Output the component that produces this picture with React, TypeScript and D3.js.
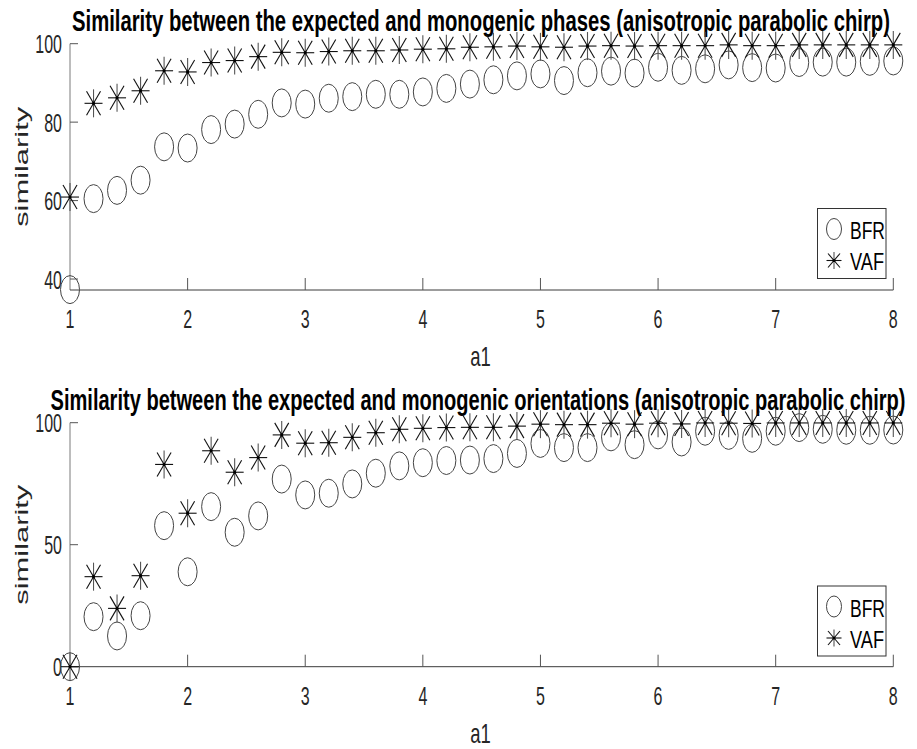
import React from "react";
import * as d3 from "d3";

const a1Values = [1, 1.2, 1.4, 1.6, 1.8, 2, 2.2, 2.4, 2.6, 2.8, 3, 3.2, 3.4, 3.6, 3.8, 4, 4.2, 4.4, 4.6, 4.8, 5, 5.2, 5.4, 5.6, 5.8, 6, 6.2, 6.4, 6.6, 6.8, 7, 7.2, 7.4, 7.6, 7.8, 8];

const phaseBFR = [37.3, 60.5, 62.6, 65.2, 73.7, 73.4, 78.1, 79.5, 82.0, 84.9, 84.6, 86.1, 86.5, 87.1, 87.1, 87.7, 88.6, 89.7, 90.8, 91.8, 92.3, 90.6, 92.6, 93.0, 92.5, 94.0, 93.2, 93.6, 94.6, 93.9, 93.8, 95.2, 95.3, 95.3, 95.5, 95.6];
const phaseVAF = [60.9, 84.8, 86.2, 88.0, 93.1, 92.8, 95.2, 95.7, 96.7, 97.8, 97.7, 98.0, 98.2, 98.2, 98.4, 98.6, 98.7, 99.1, 99.2, 99.4, 99.2, 99.1, 99.4, 99.5, 99.4, 99.5, 99.5, 99.5, 99.7, 99.5, 99.5, 99.7, 99.7, 99.7, 99.7, 99.7];

const orientBFR = [0, 20.5, 12.6, 20.9, 57.8, 38.9, 65.6, 55.1, 61.8, 76.9, 70.4, 71.1, 74.9, 79.3, 82.3, 83.6, 84.5, 84.7, 85.3, 87.4, 91.5, 89.8, 89.8, 94.2, 91.0, 95.0, 92.1, 96.5, 94.8, 93.6, 96.5, 98.0, 97.3, 96.9, 96.9, 97.0];
const orientVAF = [0, 36.9, 23.9, 37.3, 82.9, 62.9, 88.5, 79.7, 85.7, 95.0, 91.6, 91.8, 94.0, 95.9, 97.3, 97.7, 98.0, 98.1, 98.1, 98.6, 99.4, 99.2, 99.2, 99.8, 99.4, 99.8, 99.5, 99.9, 99.8, 99.7, 99.9, 99.9, 99.9, 99.9, 99.9, 99.9];

const xTicks = [1, 2, 3, 4, 5, 6, 7, 8];
const phaseYTicks = [40, 60, 80, 100];
const orientYTicks = [0, 50, 100];
const seriesNames = ["BFR", "VAF"];

const titles = [
  "Similarity between the expected and monogenic phases (anisotropic parabolic chirp)",
  "Similarity between the expected and monogenic orientations (anisotropic parabolic chirp)",
];

const FONT = "'Liberation Sans', Arial, Helvetica, sans-serif";
const TICK_COLOR = "#262626";

const xScale = d3.scaleLinear().domain([1, 8]).range([70, 893.3]);

function SText({ x, y, size, sy, anchor = "start", weight = "normal", fill = TICK_COLOR, len, children }: any) {
  return (
    <text
      transform={`translate(${x},${y}) scale(1,${sy})`}
      fontFamily={FONT}
      fontSize={size}
      fontWeight={weight}
      textAnchor={anchor}
      fill={fill}
      textLength={len}
      lengthAdjust={len ? "spacingAndGlyphs" : undefined}
    >
      {children}
    </text>
  );
}

function Star({ cx, cy, hx, hy, dx, dy }: any) {
  return (
    <g stroke="#111" strokeWidth={1.1} fill="none">
      <line x1={cx - hx} y1={cy} x2={cx + hx} y2={cy} />
      <line x1={cx} y1={cy - hy} x2={cx} y2={cy + hy} stroke="#555" />
      <line x1={cx - dx} y1={cy - dy} x2={cx + dx} y2={cy + dy} />
      <line x1={cx - dx} y1={cy + dy} x2={cx + dx} y2={cy - dy} />
      <circle cx={cx} cy={cy} r={1.6} fill="#000" stroke="none" />
    </g>
  );
}

function Panel({ title, titleY, titleLen, titleX, yDomain, yRange, yTicks, bfr, vaf, legendTop }: any) {
  const y = d3.scaleLinear().domain(yDomain).range(yRange);
  const axisY = yRange[0];
  const topY = y(100);
  const x0 = xScale.range()[0];
  const x1 = xScale.range()[1];
  return (
    <g>
      <SText x={titleX} y={titleY} size={18} sy={1.6} anchor="middle" weight="bold" fill="#000" len={titleLen}>
        {title}
      </SText>
      <line x1={x0} y1={topY} x2={x0} y2={axisY} stroke="#7a7a7a" strokeWidth={1} />
      <line x1={x0} y1={axisY} x2={x1} y2={axisY} stroke="#3a3a3a" strokeWidth={1} />
      {yTicks.map((t: number) => (
        <g key={"yt" + t}>
          <line x1={x0} y1={y(t)} x2={x0 + 8} y2={y(t)} stroke="#555" strokeWidth={1} />
          <SText x={x0 - 8} y={y(t) + 9.5} size={16} sy={1.6} anchor="end">
            {t}
          </SText>
        </g>
      ))}
      {xTicks.map((t) => (
        <g key={"xt" + t}>
          {t > 1 && <line x1={xScale(t)} y1={axisY} x2={xScale(t)} y2={axisY - 12} stroke="#555" strokeWidth={1} />}
          <SText x={xScale(t)} y={axisY + 38} size={16} sy={1.6} anchor="middle">
            {t}
          </SText>
        </g>
      ))}
      <SText x={480.5} y={axisY + 76} size={18.5} sy={1.45} anchor="middle">
        a1
      </SText>
      <text
        transform={`translate(28,${(topY + axisY) / 2}) rotate(-90)`}
        fontFamily={FONT}
        fontSize={19}
        textAnchor="middle"
        fill={TICK_COLOR}
        textLength={120}
        lengthAdjust="spacingAndGlyphs"
      >
        similarity
      </text>
      {bfr.map((v: number, i: number) => (
        <ellipse key={"b" + i} cx={xScale(a1Values[i])} cy={y(v)} rx={9.5} ry={14} fill="none" stroke="#444" strokeWidth={1} />
      ))}
      {vaf.map((v: number, i: number) => (
        <Star key={"v" + i} cx={xScale(a1Values[i])} cy={y(v)} hx={9} hy={14} dx={7} dy={12} />
      ))}
      <rect x={817.5} y={legendTop} width={68.5} height={70} fill="#fff" stroke="#333" strokeWidth={1} />
      <ellipse cx={834} cy={legendTop + 20.5} rx={7.5} ry={10.5} fill="none" stroke="#444" strokeWidth={1} />
      <SText x={850} y={legendTop + 30.5} size={16.5} sy={1.4} len={35} fill="#000">
        {seriesNames[0]}
      </SText>
      <Star cx={834} cy={legendTop + 52} hx={7.5} hy={8.5} dx={6} dy={7} />
      <SText x={850} y={legendTop + 61.5} size={16.5} sy={1.4} len={34} fill="#000">
        {seriesNames[1]}
      </SText>
    </g>
  );
}

export default function App() {
  return (
    <svg
      width={917}
      height={749}
      style={{ position: "absolute", left: 0, top: 0, background: "#fff" }}
    >
      <rect x={0} y={0} width={917} height={749} fill="#fff" />
      <Panel
        title={titles[0]}
        titleX={481}
        titleY={31}
        titleLen={818}
        yDomain={[37.2, 100]}
        yRange={[290, 43.7]}
        yTicks={phaseYTicks}
        bfr={phaseBFR}
        vaf={phaseVAF}
        legendTop={208.5}
      />
      <Panel
        title={titles[1]}
        titleX={478}
        titleY={410}
        titleLen={855}
        yDomain={[0, 100]}
        yRange={[666.7, 422.7]}
        yTicks={orientYTicks}
        bfr={orientBFR}
        vaf={orientVAF}
        legendTop={586}
      />
    </svg>
  );
}
